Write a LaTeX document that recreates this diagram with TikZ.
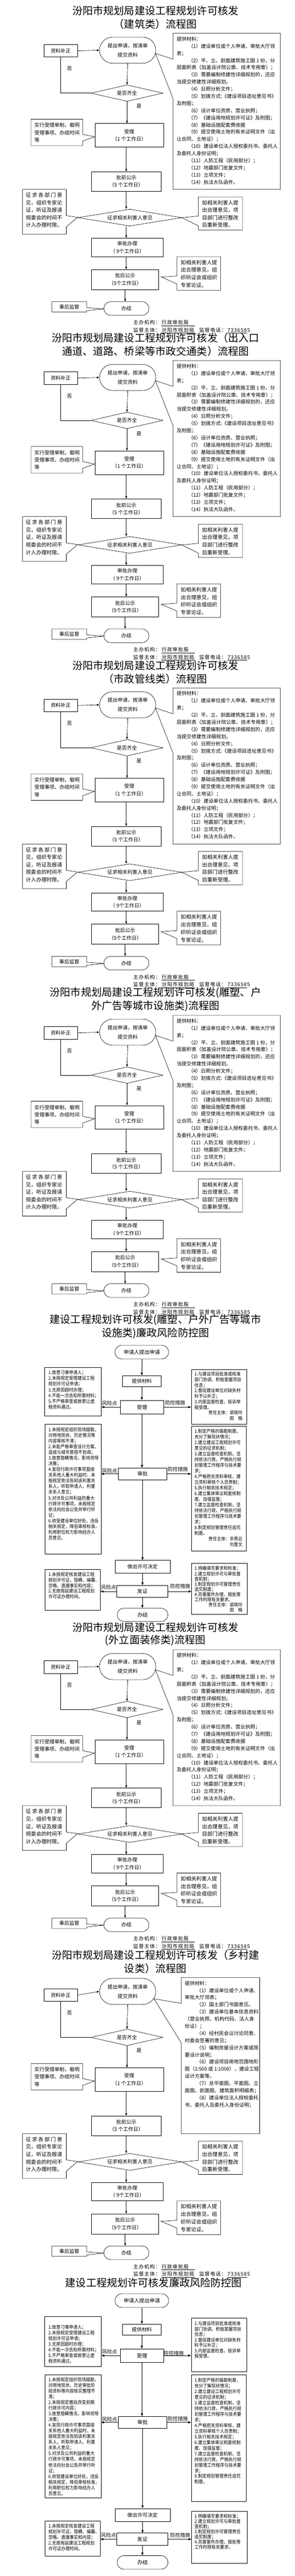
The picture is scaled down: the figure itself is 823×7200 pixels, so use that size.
\documentclass[tikz,border=0pt]{standalone}
\usepackage{fontspec}
\setmainfont{Noto Sans CJK SC}
\newfontfamily\ftrfont[LetterSpace=10]{Noto Sans CJK SC}
\newfontfamily\cndfont[FakeStretch=0.9]{Noto Sans CJK SC}
\usetikzlibrary{arrows.meta,shapes.geometric,shapes.misc}
\newcommand\ind{\hspace*{2.35em}}
\newcommand\TLA[6]{\foreach \lnx [count=\lni] in #6 {\node[anchor=base west,inner sep=0,font=\fontsize{#5}{#5}\selectfont] (#1\lni) at ({#2},{#3+0.38*#5+(\lni-1)*#4}) {\lnx};}}
\newcommand\TLB[5]{\foreach \lnx [count=\lni] in #5 {\node[anchor=base west,inner sep=0,font=\cndfont\fontsize{13.2}{13.2}\selectfont] (#1\lni) at ({#2},{#3+5+(\lni-1)*#4}) {\lnx};}}
\tikzset{
 lw/.style={line width=0.9pt},
 flowbox/.style={draw,lw,rectangle,inner sep=0,align=center,font=\fontsize{14}{21}\selectfont},
 flowov/.style={draw,lw,rounded rectangle,inner sep=0,align=center,font=\fontsize{14}{21}\selectfont},
 flowdia/.style={draw,lw,diamond,inner sep=0,font=\fontsize{14}{14}\selectfont},
 plainbox/.style={draw,lw,rectangle,inner sep=0},
 cal/.style={draw,lw,line join=miter},
 lab/.style={inner sep=0,font=\fontsize{14}{14}\selectfont},
 titlef/.style={inner sep=0,font=\fontsize{29}{29}\selectfont},
 footf/.style={anchor=base west,inner sep=0,font=\ftrfont\fontsize{14}{14}\selectfont},
 rtxt/.style={anchor=base east,inner sep=0,font=\cndfont\fontsize{13.2}{13.2}\selectfont},
 arrA/.style={lw,-{Triangle[length=7pt,width=5pt]}},
 arrB/.style={lw,-{Triangle[length=8pt,width=6pt]}},
}
\def\LstShou{{实行受理单制，载明},{受理事项、办结时间},{等}}
\def\LstZqL{{\makebox[7em][s]{征\hfil 求\hfil 各\hfil 部\hfil 门\hfil 意}},{见，组织专家论},{证，听证及报请},{规委会的时间不},{计入办理时限。}}
\def\LstZqR{{如相关利害人提},{出合理意见，项},{目部门进行整改},{后重新受理。}}
\def\LstHg{{如相关利害人提},{出合理意见，组},{织听证会或组织},{专家论证。}}
\def\MatListA{{提供材料：},{\ind（1）建设单位或个人申请、审批大厅领},{表；},{\ind（2）平、立、剖面建筑施工图 1 份，分},{层面积表（加盖设计院公章、技术专用章）；},{\ind（3）需要编制修建性详细规划的，还应},{当提交修建性详细规划。},{\ind（4）日照分析文件；},{\ind（5）划拨方式:《建设项目选址意见书》},{及附图；},{\ind（6）设计单位资质、营业执照；},{\ind（7）《建设用地规划许可证》及附图；},{\ind（8）基础设施配套费收据},{\ind（9）提交使用土地的有关证明文件（出},{让合同、土地证）；},{\ind（10）建设单位法人授权委托书、委托人},{及委托人身份证明；},{\ind（11）人防工程（民用部分）；},{\ind（12）地震部门批复文件；},{\ind（13）立项文件；},{\ind（14）执法大队函件。}}
\def\MatListG{{提供材料：},{\ind（1）建设单位或个人申请、},{审批大厅领表；},{\ind（2）国土部门书面意见。},{\ind（3）建设单位基本信息资料},{（营业执照、机构代码、法人身},{份证）；},{\ind（4）经村民会议讨论同意、},{村委会签署的意见；},{\ind（5）编制房屋设计方案或简},{要设计说明；},{\ind（6）建设项目用地范围地形},{图（1:500 或 1:1000），建设工程},{设计方案等。},{\ind（7）总平面图、平面图、立},{面图、剖面图、建筑面积明细表；},{\ind（8）建设单位法人授权委托},{书、委托人及委托人身份证明；}}
\def\BLa{{1.故意刁难申请人；},{2.未按规定受理建设工程},{规划许可证申请；},{3.无原因超时办理；},{4.不能一次告知所需材料；},{5.不严格审查或故意让虚},{假资料通过。}}
\def\BRa{{1.与建设项目批准或核准},{部门协调，积极掌握项目},{信息；},{2.督促建设单位对缺失材},{料予以补正；},{3.内部监督检查、投诉举},{报受理。}}
\def\BLb{{1.未按规定组织现场踏勘，},{对用地现状、历史情况等},{内容审核不清；},{2.未能严格审查设计方案，},{造成与城市景观不协调；},{3.故意隐瞒情况，影响领导},{决策；},{4.发现行政许可事项直接},{关系他人重大利益时，未},{按规定依法告知该利害关},{系人，听取申请人、利害},{关系人意见；},{5.对涉及公共利益的重大},{行政许可事项，未按规定},{依法向社会公告并举行听},{证；},{6.收受建设单位好处，违反},{相关规定，降低审核标准，},{利用职位权力影响经办人},{员意见。}}
\def\BLbb{{1.未按规定组织现场踏勘，},{对用地现状、历史审批阶},{段资料等内容核实整理不},{清；},{2.未按规定擅自改变前期},{行政许可内容；},{3.故意隐瞒情况，影响领导},{决策；},{4.发现行政许可事项直接},{关系他人重大利益时，未},{按规定依法告知该利害关},{系人，听取申请人、利害},{关系人意见；},{5.对涉及公共利益的重大},{行政许可事项，未按规定},{依法向社会公告并举行听},{证；},{6.收受建设单位好处，违反},{相关规定，降低审核标准，},{利用职位权力影响经办人},{员意见。}}
\def\BRb{{1.制定严格的踏勘制度，},{充分了解现状情况；},{2.建立建设工程规划许可},{意见的征求机制；},{3.建立监督检查机制，坚},{持依法行政，严格执行规},{划管理工作程序与技术要},{求；},{4.严格把关资料审核，建},{立资料审核个人员责制；},{5.执行相关技术规定；},{6.建立集体审议和复核制},{度、加强监督；},{7.建立监督检查机制，坚},{持依法行政，严格执行规},{划管理工作程序与技术要},{求；},{8.制定规划管理责任追究},{制度。}}
\def\BLc{{1.未按规定核发建设工程},{规划许可证，隐瞒、编纂、},{忽略、遗漏事实和内容；},{2.无故拖延建设工程规划},{许可证办理时间。}}
\def\BRc{{1.明确填写要求和标准；},{2.建立规划许可与审批督},{查机制；},{3.制定规划许可管理责任},{追究制度；},{4.完善案件办理、报批等},{工作时限有关要求。}}
% flowchart section: #1 prefix, #2 anchor y, #3 title line 1, #4 title line 2, #5 oval centre
\newcommand\SecA[5]{%
\begin{scope}[shift={(0,#2)}]
 \node[titlef] (#1tA) at (434,-94) {#3};
 \node[titlef] (#1tB) at (434,-57) {#4};
 \node[flowov,minimum width=157,minimum height=73,font=\fontsize{14}{26}\selectfont] (#1ov) at (356.5,#5) {提出申请，按清单\\提交资料};
 \node[flowbox,minimum width=93,minimum height=35] (#1zl) at (169.5,17.7) {资料补正};
 \node[flowdia,minimum width=201,minimum height=46,aspect=4.4] (#1dq) at (354.5,136) {是否齐全};
 \node[lab] (#1no) at (194,68) {否};
 \node[lab] (#1yes) at (388,173) {是};
 \node[flowbox,minimum width=192,minimum height=66] (#1sl) at (361,254) {受理\\（1 个工作日）};
 \node[flowbox,minimum width=195,minimum height=55,font=\fontsize{14}{20}\selectfont] (#1pq) at (352.5,383) {批前公示\\（5 个工作日）};
 \node[flowdia,minimum width=290,minimum height=47,aspect=6.2] (#1zq) at (362.7,484) {征求相关利害人意见};
 \node[flowbox,minimum width=201,minimum height=51.5] (#1sp) at (355.5,567) {审批办理\\（ 9个工作日）};
 \node[flowbox,minimum width=187,minimum height=56] (#1hq) at (349.5,657) {批后公示\\（5个工作日）};
 \node[flowov,minimum width=126,minimum height=38] (#1bj) at (353,738) {办结};
 \draw[cal] (86.5,209) -- (231,209) -- (231,251) -- (264,258) -- (231,270) -- (231,283) -- (86.5,283) -- cycle;
 \TLA{#1ca}{96}{226}{20.5}{14}{\LstShou}
 \draw[cal] (63,405) -- (185,405) -- (185,478.5) -- (216.6,483) -- (185,510) -- (185,530) -- (63,530) -- cycle;
 \TLA{#1cb}{72}{421}{21}{14.5}{\LstZqL}
 \draw[cal] (554,426) -- (677,426) -- (677,519) -- (554,519) -- (554,507) -- (507.7,484) -- (554,479.6) -- cycle;
 \TLA{#1cc}{564}{442}{21}{14.5}{\LstZqR}
 \draw[cal] (494,593) -- (616,593) -- (616,687) -- (494,687) -- (494,669) -- (450,650) -- (494,647) -- cycle;
 \TLA{#1cd}{504.5}{609}{21.3}{14.5}{\LstHg}
 \draw[cal] (145,719) -- (242,719) -- (242,735.5) -- (289.5,739) -- (242,744) -- (242,748) -- (145,748) -- cycle;
 \node[lab] (#1sj) at (193.5,733.5) {事后监管};
 \draw[arrA] (#1zl.east) -- (#1ov.west);
 \draw[lw] (#1zl.south) |- (#1dq.west);
 \draw[arrA] (#1ov.south) -- (#1dq.north);
 \draw[arrA] (#1dq.south) -- (#1dq.south |- #1sl.north);
 \draw[arrA] (#1pq.north |- #1sl.south) -- (#1pq.north);
 \draw[arrA] (#1pq.south) -- (#1pq.south |- #1zq.north);
 \draw[arrA] (#1zq.south -| #1pq.south) -- (#1sp.north -| #1pq.south);
 \draw[arrA] (#1sp.south -| #1pq.south) -- (#1hq.north -| #1pq.south);
 \draw[arrA] (#1hq.south) -- (#1hq.south |- #1bj.north);
 \node[footf] (#1fa) at (372,782.3) {主办机构：};
 \node[footf] (#1fb) at (451,782.3) {行政审批股};
 \node[footf] (#1fc) at (372,803.3) {监督主体：};
 \node[footf] (#1fd) at (451,803.3) {汾阳市规划局};
 \node[footf] (#1fe) at (556,803.3) {监督电话：};
 \node[footf] (#1ff) at (635,803.3) {7336585};
 \draw[line width=0.7pt] (451,785.5) -- (545,785.5);
 \draw[line width=0.7pt] (451,806.5) -- (545,806.5);
 \draw[line width=0.7pt] (635,806.5) -- (690,806.5);
\end{scope}}
% material callout: #1 prefix, #2 anchor y, #3 left, #4 right, #5 tip x, #6 tip y, #7 list
\newcommand\MatBox[7]{%
\begin{scope}[shift={(0,#2)}]
 \draw[cal] (#3,-31) -- (#4,-31) -- (#4,405) -- (#3,405) -- (#3,151) -- (#5,#6) -- (#3,41) -- cycle;
 \TLA{#1m}{#3+10}{-15.3}{20}{13.8}{#7}
\end{scope}}
\begin{document}
\begin{tikzpicture}[x=1pt,y=-1pt]
\fill[white] (0,0) rectangle (823,7200);
\useasboundingbox (0,0) rectangle (823,7200);
\SecA{a}{124.3}{汾阳市规划局建设工程规划许可核发}{（建筑类）流程图}{16}
\MatBox{a}{124.3}{483}{783}{434}{25}{\MatListA}
\SecA{b}{1039}{汾阳市规划局建设工程规划许可核发（出入口}{通道、道路、桥梁等市政交通类）流程图}{16}
\MatBox{b}{1039}{483}{783}{434}{25}{\MatListA}
\SecA{c}{1954}{汾阳市规划局建设工程规划许可核发}{（市政管线类）流程图}{16}
\MatBox{c}{1954}{483}{783}{434}{25}{\MatListA}
\SecA{d}{2869}{汾阳市规划局建设工程规划许可核发(雕塑、户}{外广告等城市设施类)流程图}{16}
\MatBox{d}{2869}{483}{783}{434}{25}{\MatListA}
\SecA{f}{4642}{汾阳市规划局建设工程规划许可核发}{(外立面装修类)流程图}{16}
\MatBox{f}{4642}{483}{783}{434}{25}{\MatListA}
\SecA{g}{5558.5}{汾阳市规划局建设工程规划许可核发（乡村建}{设类）流程图}{7.5}
\MatBox{g}{5558.5}{506}{725}{430}{28}{\MatListG}
% integrity risk chart (sculpture etc.)
\begin{scope}[shift={(0,3760)}]
 \node[titlef] (etA) at (434,-70.5) {建设工程规划许可核发(雕塑、户外广告等城市};
 \node[titlef] (etB) at (434,-33) {设施类)廉政风险防控图};
 \node[flowov,minimum width=150,minimum height=38.5,font=\fontsize{14.5}{14.5}\selectfont] (eov) at (396,19.2) {申请人提出申请};
 \node[flowbox,minimum width=108,minimum height=31] (ecl) at (396,100.5) {提供材料};
 \node[flowbox,minimum width=121,minimum height=38,font=\fontsize{14.5}{14.5}\selectfont] (esl) at (396.5,172.8) {受理};
 \node[plainbox,minimum width=158,minimum height=135] (el1) at (204,129.5) {};
 \node[plainbox,minimum width=155,minimum height=153.5] (er1) at (611.5,144.25) {};
 \node[flowbox,minimum width=136,minimum height=33,font=\fontsize{14.5}{14.5}\selectfont] (esp) at (398,359.5) {审批};
 \node[plainbox,minimum width=156,minimum height=363] (el2) at (204,402.5) {};
 \node[plainbox,minimum width=153,minimum height=349] (er2) at (610.5,400.5) {};
 \node[flowbox,minimum width=154,minimum height=36] (ejd) at (398,619) {做出许可决定};
 \node[flowbox,minimum width=143,minimum height=34,font=\fontsize{14.5}{14.5}\selectfont] (efz) at (397.5,688) {发证};
 \node[plainbox,minimum width=154,minimum height=115] (el3) at (203,683.5) {};
 \node[plainbox,minimum width=155,minimum height=142] (er3) at (612.5,681) {};
 \node[flowov,minimum width=142,minimum height=37,font=\fontsize{14.5}{14.5}\selectfont] (ebj) at (398,753.5) {办结};
 \draw[arrB] (eov.south) -- (eov.south |- ecl.north);
 \draw[arrB] (ecl.south) -- (ecl.south |- esl.north);
 \draw[arrB] (esl.south) -- (esl.south |- esp.north);
 \draw[arrB] (esp.south) -- (esp.south |- ejd.north);
 \draw[arrB] (ejd.south) -- (ejd.south |- efz.north);
 \draw[arrB] (efz.south) -- (efz.south |- ebj.north);
 \draw[arrB] (esl.west) -- (esl.west -| el1.east);
 \draw[arrB] (esl.east) -- (esl.east -| er1.west);
 \draw[arrB] (esp.west) -- (esp.west -| el2.east);
 \draw[arrB] (esp.east) -- (esp.east -| er2.west);
 \draw[arrB] (efz.west) -- (efz.west -| el3.east);
 \draw[arrB] (efz.east) -- (efz.east -| er3.west);
 \node[lab] (ekA) at (306,162) {风险点};
 \node[lab] (ekB) at (489,161) {防控措施};
 \node[lab] (ekC) at (306,351) {风险点};
 \node[lab] (ekD) at (496.5,347) {防控措施};
 \node[lab] (ekE) at (303,676) {风险点};
 \node[lab] (ekF) at (503,674) {防控措施};
 \TLB{ea}{135}{76}{16.2}{\BLa}
 \TLB{eb}{543}{81}{15.4}{\BRa}
 \node[rtxt] (eyA) at (677,193.5) {责任主体：梁晓玲};
 \node[rtxt] (eyB) at (677,209) {田\hspace{0.9em}梅};
 \TLB{ec}{135}{236}{15.9}{\BLb}
 \TLB{ed}{543}{241}{15.8}{\BRb}
 \node[rtxt] (eyC) at (677,546.2) {责任主体：辛燕云};
 \node[rtxt] (eyD) at (677,562) {刘晋文};
 \TLB{ee}{135}{640.5}{15.6}{\BLc}
 \TLB{ef}{543}{624}{14.5}{\BRc}
 \node[rtxt] (eyE) at (677,730.5) {责任主体：梁晓玲};
 \node[rtxt] (eyF) at (677,745) {田\hspace{0.9em}梅};
\end{scope}
% integrity risk chart (general)
\begin{scope}[shift={(0,6411)}]
 \node[titlef] (htA) at (429,-31) {建设工程规划许可核发廉政风险防控图};
 \node[flowov,minimum width=150,minimum height=38.5,font=\fontsize{14.5}{14.5}\selectfont] (hov) at (396,19.2) {申请人提出申请};
 \node[flowbox,minimum width=108,minimum height=31] (hcl) at (396,100.5) {提供材料};
 \node[flowbox,minimum width=121,minimum height=38,font=\fontsize{14.5}{14.5}\selectfont] (hsl) at (396.5,172.8) {受理};
 \node[plainbox,minimum width=158,minimum height=141] (hl1) at (204,133.5) {};
 \node[plainbox,minimum width=155,minimum height=149] (hr1) at (611.5,142.5) {};
 \node[flowbox,minimum width=136,minimum height=33,font=\fontsize{14.5}{14.5}\selectfont] (hsp) at (398,359.5) {审批};
 \node[plainbox,minimum width=156,minimum height=345] (hl2) at (204,398.5) {};
 \node[plainbox,minimum width=153,minimum height=353] (hr2) at (610.5,403.5) {};
 \node[flowbox,minimum width=154,minimum height=36] (hjd) at (398,618) {做出许可决定};
 \node[flowbox,minimum width=143,minimum height=34,font=\fontsize{14.5}{14.5}\selectfont] (hfz) at (397.5,686) {发证};
 \node[plainbox,minimum width=154,minimum height=98] (hl3) at (203,684) {};
 \node[plainbox,minimum width=155,minimum height=146] (hr3) at (612.5,681) {};
 \node[flowov,minimum width=142,minimum height=38,font=\fontsize{14.5}{14.5}\selectfont] (hbj) at (398,751) {办结};
 \draw[arrB] (hov.south) -- (hov.south |- hcl.north);
 \draw[arrB] (hcl.south) -- (hcl.south |- hsl.north);
 \draw[arrB] (hsl.south) -- (hsl.south |- hsp.north);
 \draw[arrB] (hsp.south) -- (hsp.south |- hjd.north);
 \draw[arrB] (hjd.south) -- (hjd.south |- hfz.north);
 \draw[arrB] (hfz.south) -- (hfz.south |- hbj.north);
 \draw[arrB] (hsl.west) -- (hsl.west -| hl1.east);
 \draw[arrB] (hsl.east) -- (hsl.east -| hr1.west);
 \draw[arrB] (hsp.west) -- (hsp.west -| hl2.east);
 \draw[arrB] (hsp.east) -- (hsp.east -| hr2.west);
 \draw[arrB] (hfz.west) -- (hfz.west -| hl3.east);
 \draw[arrB] (hfz.east) -- (hfz.east -| hr3.west);
 \node[lab] (hkA) at (306,162) {风险点};
 \node[lab] (hkB) at (485,166) {防控措施};
 \node[lab] (hkC) at (306,350.5) {风险点};
 \node[lab] (hkD) at (496.5,349) {防控措施};
 \node[lab] (hkE) at (303,675) {风险点};
 \node[lab] (hkF) at (503,675) {防控措施};
 \TLB{ha}{135}{93}{16}{\BLa}
 \TLB{hb}{543}{83.5}{15.2}{\BRa}
 \TLB{hc}{135}{240.6}{15.87}{\BLbb}
 \TLB{hd}{543}{241.7}{15.8}{\BRb}
 \TLB{he}{135}{649}{16}{\BLc}
 \TLB{hf}{543}{622}{14.3}{\BRc}
\end{scope}
\end{tikzpicture}
\end{document}
